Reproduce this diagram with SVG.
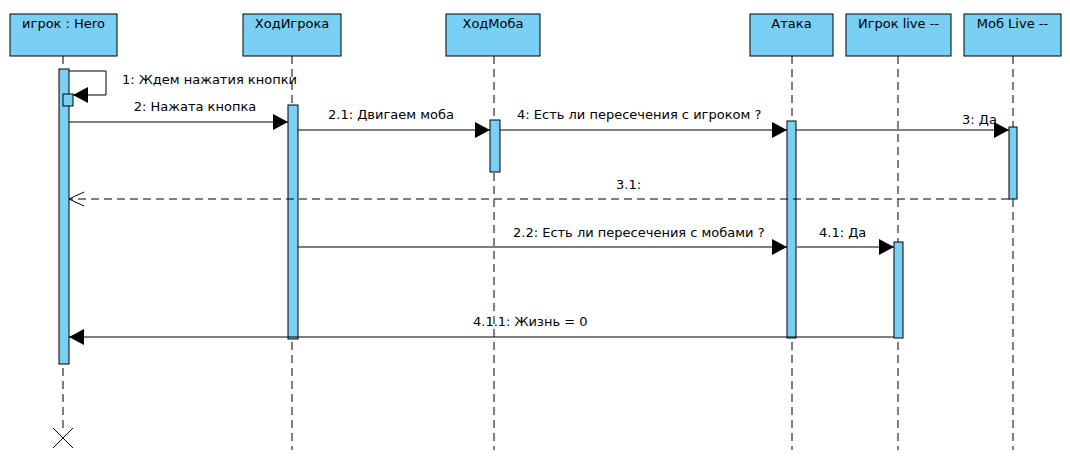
<svg xmlns="http://www.w3.org/2000/svg" width="1070" height="475" viewBox="0 0 1070 475">
<style>
.box{fill:#7acff5;stroke:#000;stroke-width:1}
.act{fill:#7acff5;stroke:#000;stroke-width:1}
.life{stroke:#000;stroke-width:1;stroke-dasharray:8,5;fill:none}
.msg{stroke:#000;stroke-width:1;fill:none}
.ret{stroke:#000;stroke-width:1;fill:none;stroke-dasharray:8,5}
text{font-family:"DejaVu Sans",sans-serif;font-size:13px;fill:#000}
.t{text-anchor:middle}
</style>
<defs>
<marker id="fa" markerWidth="16" markerHeight="18" refX="15" refY="8" orient="auto" markerUnits="userSpaceOnUse">
<path d="M0,0 L15,8 L0,16 Z" fill="#000"/>
</marker>
<marker id="oa" markerWidth="17" markerHeight="18" refX="15" refY="8" orient="auto" markerUnits="userSpaceOnUse">
<path d="M0,1 L15,8 L0,15" fill="none" stroke="#000" stroke-width="1"/>
</marker>
</defs>
<rect width="1070" height="475" fill="#fff"/>
<g id="lifelines">
<line class="life" x1="63" y1="56" x2="63" y2="430"/>
<line class="life" x1="292" y1="56" x2="292" y2="450"/>
<line class="life" x1="494" y1="56" x2="494" y2="450"/>
<line class="life" x1="792" y1="56" x2="792" y2="450"/>
<line class="life" x1="898" y1="56" x2="898" y2="450"/>
<line class="life" x1="1013" y1="56" x2="1013" y2="450"/>
</g>
<g id="hero">
<rect class="box" x="10" y="14" width="107" height="42"/>
<text class="t" x="63.5" y="28">игрок : Hero</text>
<rect class="act" x="59" y="69" width="10" height="295"/>
<rect class="act" x="63" y="94" width="10" height="12"/>
<path d="M53,428 L73,448 M73,428 L53,448" stroke="#000" stroke-width="1"/>
</g>
<g id="hodigroka">
<rect class="box" x="243" y="14" width="98" height="42"/>
<text class="t" x="292" y="28">ХодИгрока</text>
<rect class="act" x="288" y="105" width="10" height="234"/>
</g>
<g id="hodmoba">
<rect class="box" x="446" y="14" width="94" height="42"/>
<text class="t" x="493" y="28">ХодМоба</text>
<rect class="act" x="490" y="120" width="10" height="52"/>
</g>
<g id="ataka">
<rect class="box" x="750" y="14" width="83" height="42"/>
<text class="t" x="791.5" y="28">Атака</text>
<rect class="act" x="787" y="121" width="9" height="217"/>
</g>
<g id="igroklive">
<rect class="box" x="846" y="14" width="105" height="42"/>
<text class="t" x="898.5" y="28">Игрок live --</text>
<rect class="act" x="894" y="242" width="9" height="96"/>
</g>
<g id="moblive">
<rect class="box" x="964" y="14" width="97" height="42"/>
<text class="t" x="1012.5" y="28">Моб Live --</text>
<rect class="act" x="1009" y="127" width="8" height="72"/>
</g>
<g id="connectors">
<path class="msg" d="M69,71 L106,71 L106,95 L73,95" marker-end="url(#fa)"/>
<text x="122" y="84">1: Ждем нажатия кнопки</text>
<line class="msg" x1="69" y1="122" x2="288" y2="122" marker-end="url(#fa)"/>
<text class="t" x="195" y="111">2: Нажата кнопка</text>
<line class="msg" x1="298" y1="130" x2="490" y2="130" marker-end="url(#fa)"/>
<text x="328" y="119">2.1: Двигаем моба</text>
<line class="msg" x1="500" y1="130" x2="787" y2="130" marker-end="url(#fa)"/>
<text x="517" y="119">4: Есть ли пересечения с игроком ?</text>
<line class="msg" x1="796" y1="130" x2="1009" y2="130" marker-end="url(#fa)"/>
<text x="962" y="124">3: Да</text>
<line class="ret" x1="1009" y1="199" x2="69" y2="199" marker-end="url(#oa)"/>
<text x="616" y="189">3.1:</text>
<line class="msg" x1="298" y1="247" x2="787" y2="247" marker-end="url(#fa)"/>
<text x="513" y="237">2.2: Есть ли пересечения с мобами ?</text>
<line class="msg" x1="797" y1="247" x2="894" y2="247" marker-end="url(#fa)"/>
<text x="819" y="237">4.1: Да</text>
<line class="msg" x1="894" y1="337" x2="69" y2="337" marker-end="url(#fa)"/>
<text x="473" y="326">4.1.1: Жизнь = 0</text>
</g>
</svg>
